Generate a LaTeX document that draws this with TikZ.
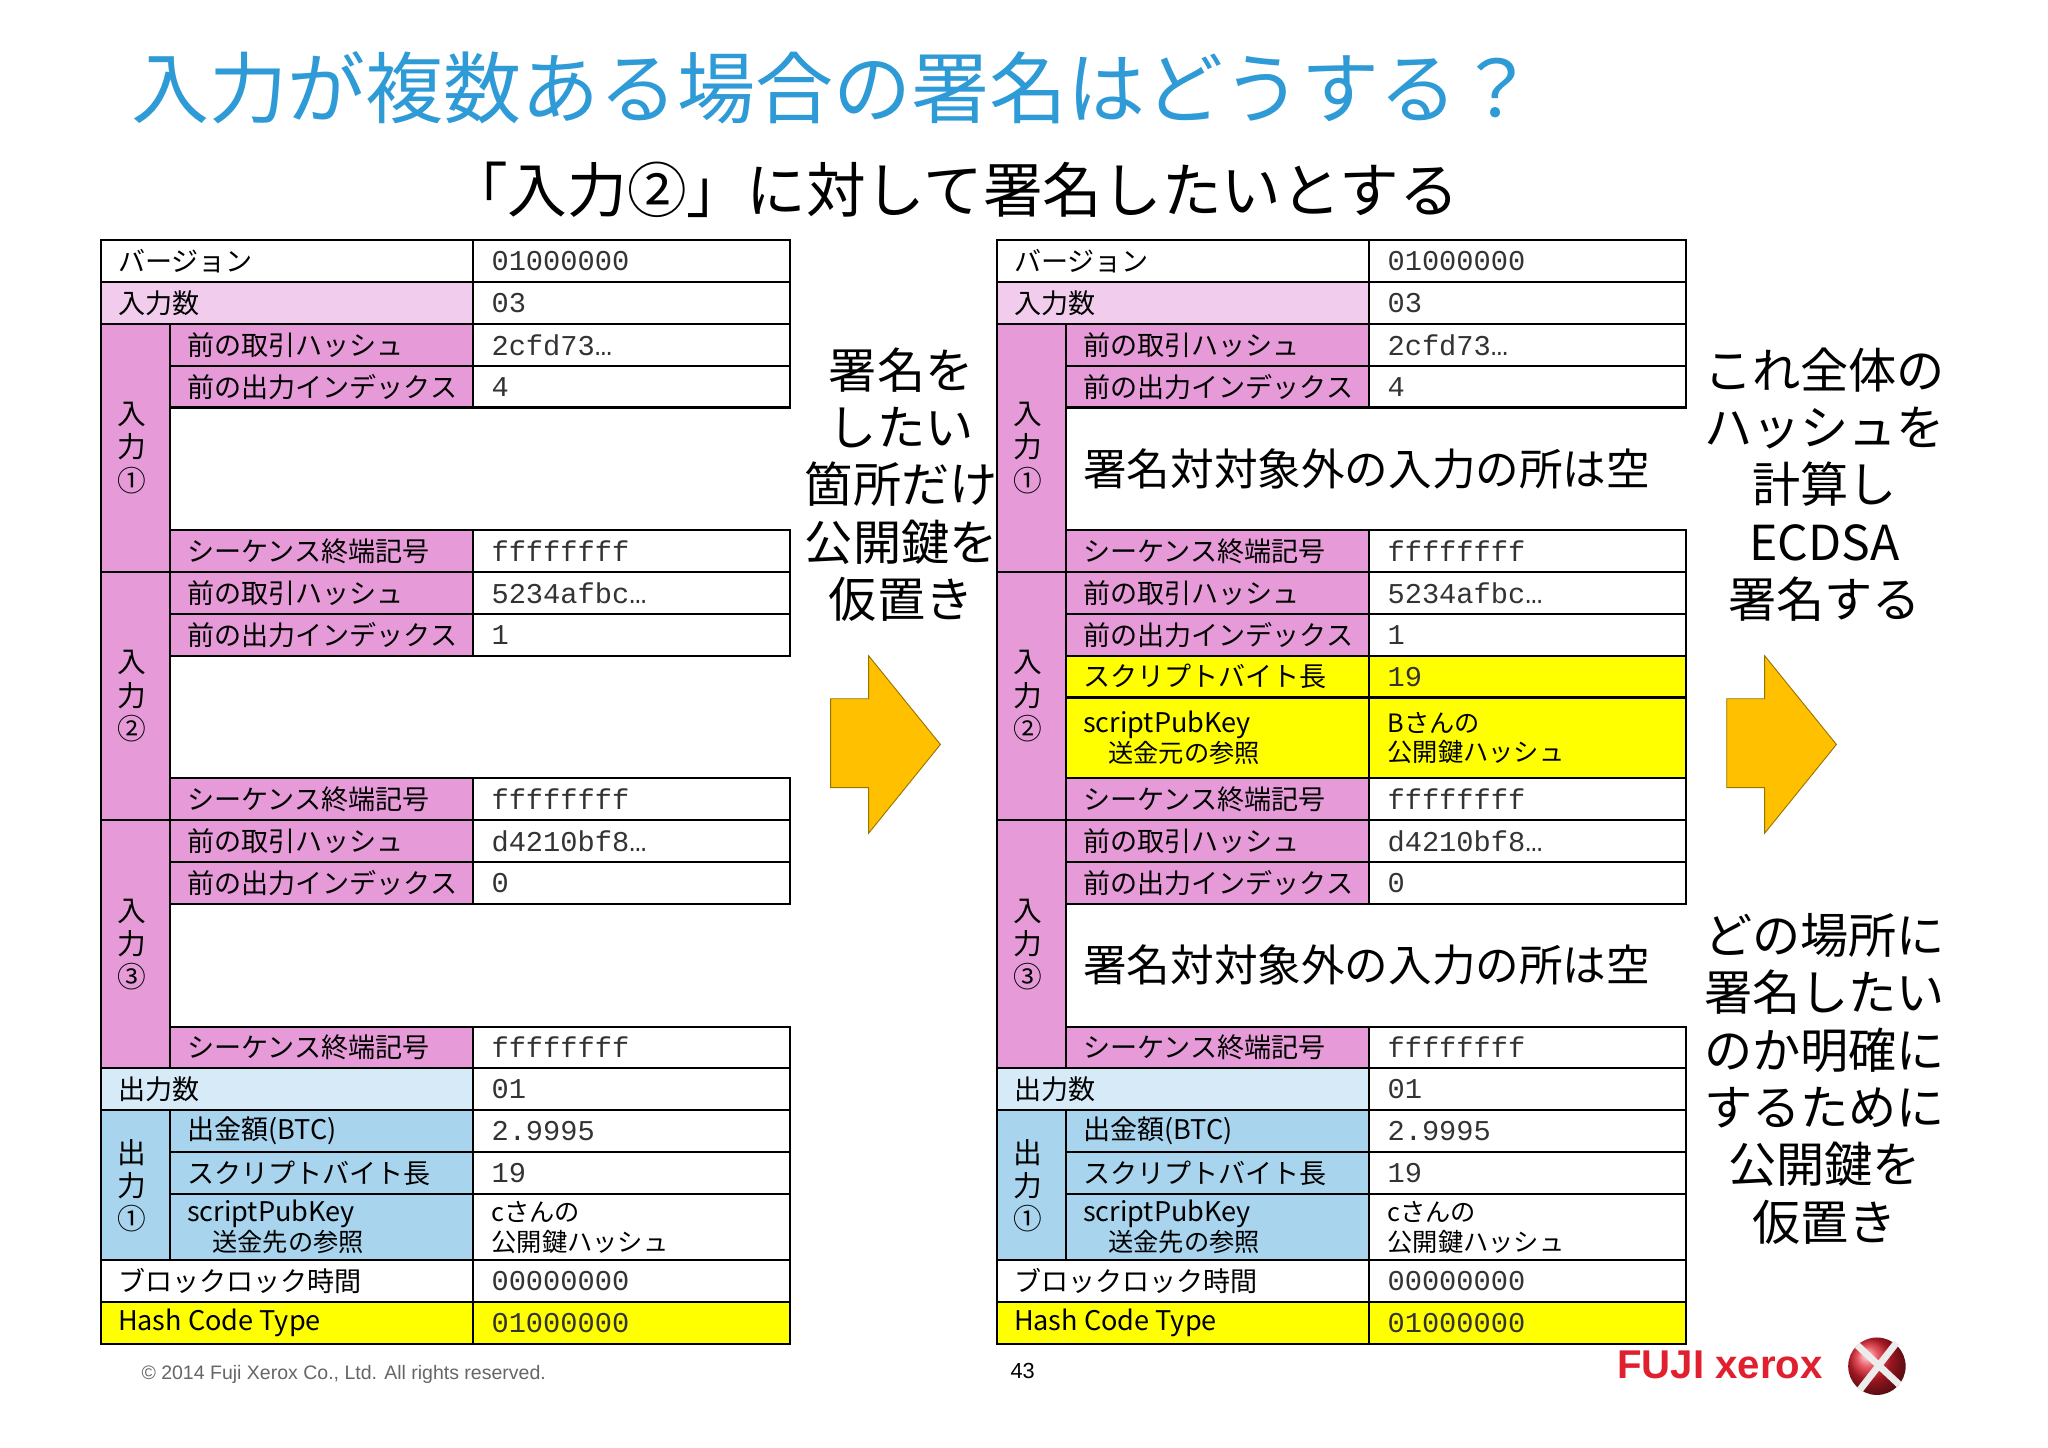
\documentclass[tikz,border=0pt]{standalone}
\usepackage{fontspec}
\setmainfont{Noto Sans CJK JP}
\newfontfamily\monof{Liberation Mono}
\newfontfamily\logof{Liberation Sans}
\definecolor{lpink}{HTML}{F2CCEC}
\definecolor{dpink}{HTML}{E69BD8}
\definecolor{lblue}{HTML}{D6EAF8}
\definecolor{dblue}{HTML}{A8D4EE}
\definecolor{yel}{HTML}{FFFF00}
\definecolor{ttl}{HTML}{2E9AD6}
\definecolor{arr}{HTML}{FFC000}
\definecolor{xred}{HTML}{E0202E}
\tikzset{
 lbl/.style={anchor=west,inner sep=0pt,font=\fontsize{11.8}{14}\selectfont},
 val/.style={anchor=west,inner sep=0pt,font=\monof\fontsize{12.5}{14}\selectfont,text=black!80},
 valj/.style={anchor=west,inner sep=0pt,align=left,font=\fontsize{11}{13}\selectfont},
 strip/.style={align=center,inner sep=0pt,font=\fontsize{12.5}{14.5}\selectfont},
 big/.style={align=center,inner sep=0pt,font=\fontsize{21}{25}\selectfont},
 cellb/.style={draw=black,line width=0.9pt},
 arrowshape/.style={fill=arr,draw=arr!60!black,line width=0.4pt},
}
\newcommand\trow[8]{%
 \draw[cellb,fill=#5] (#2,#3) rectangle (362,#4);
 \draw[cellb,fill=#6] (362,#3) rectangle (605,#4);
 \node[lbl] (#1l) at (#2+13,{(#3+#4)/2}) {#7};
 \node[val] (#1v) at (376,{(#3+#4)/2}) {#8};}
\newcommand\trowj[8]{%
 \draw[cellb,fill=#5] (#2,#3) rectangle (362,#4);
 \draw[cellb,fill=#6] (362,#3) rectangle (605,#4);
 \node[valj] (#1l) at (#2+13,{(#3+#4)/2}) {\fontsize{11.8}{14}\selectfont #7};
 \node[valj] (#1v) at (376,{(#3+#4)/2}) {#8};}
\newcommand\inblock[6]{%
 \draw[cellb,fill=dpink] (77,#2) rectangle (130,#2+190);
 \node[strip] (#1s) at (101,#2+95) {入\\力\\#3};
 \trow{#1a}{130}{#2}{#2+32}{dpink}{white}{前の取引ハッシュ}{#4}
 \trow{#1b}{130}{#2+32}{#2+64}{dpink}{white}{前の出力インデックス}{#5}
 \ifcase#6\or
  \node[inner sep=0pt,font=\fontsize{19}{22}\selectfont,anchor=west] (#1e) at (143,#2+111) {署名対対象外の入力の所は空};
 \or
  \trow{#1c}{130}{#2+64}{#2+96}{yel}{yel}{スクリプトバイト長}{19}
  \trowj{#1d}{130}{#2+96}{#2+158}{yel}{yel}{scriptPubKey\\\hspace*{1em}送金元の参照}{Bさんの\\公開鍵ハッシュ}
 \fi
 \trow{#1f}{130}{#2+158}{#2+190}{dpink}{white}{シーケンス終端記号}{ffffffff}}
\newcommand\txtable[3]{%
 \trow{ver}{77}{184}{216}{white}{white}{バージョン}{01000000}
 \trow{nin}{77}{216}{248}{lpink}{white}{入力数}{03}
 \inblock{i1}{248}{①}{2cfd73…}{4}{#1}
 \inblock{i2}{438}{②}{5234afbc…}{1}{#2}
 \inblock{i3}{628}{③}{d4210bf8…}{0}{#3}
 \trow{nout}{77}{818}{850}{lblue}{white}{出力数}{01}
 \draw[cellb,fill=dblue] (77,850) rectangle (130,965);
 \node[strip] (os) at (101,908) {出\\力\\①};
 \trow{oa}{130}{850}{882}{dblue}{white}{出金額(BTC)}{2.9995}
 \trow{ob}{130}{882}{914}{dblue}{white}{スクリプトバイト長}{19}
 \trowj{oc}{130}{914}{965}{dblue}{white}{scriptPubKey\\\hspace*{1em}送金先の参照}{cさんの\\公開鍵ハッシュ}
 \trow{lock}{77}{965}{997}{white}{white}{ブロックロック時間}{00000000}
 \trow{hct}{77}{997}{1029}{yel}{yel}{Hash Code Type}{01000000}}
\begin{document}
\begin{tikzpicture}[x=0.02cm,y=-0.02cm]
\useasboundingbox (0,0) rectangle (1568,1108);
\fill[white] (0,0) rectangle (1568,1108);
\node[anchor=west,inner sep=0pt,text=ttl,font=\fontsize{34}{38}\selectfont] (title) at (100,67) {入力が複数ある場合の署名はどうする？};
\node[inner sep=0pt,font=\fontsize{26}{30}\selectfont] (sub) at (730,145) {「入力②」に対して署名したいとする};
\begin{scope}[name prefix=L-]
 \txtable{0}{0}{0}
\end{scope}
\begin{scope}[xshift=686*0.02cm,name prefix=R-]
 \txtable{1}{2}{1}
\end{scope}
\node[big] (m1) at (690,371) {署名を\\したい\\箇所だけ\\公開鍵を\\仮置き};
\node[big] (r1) at (1397,371) {これ全体の\\ハッシュを\\計算し\\ECDSA\\署名する};
\node[big] (r2) at (1397,826) {どの場所に\\署名したい\\のか明確に\\するために\\公開鍵を\\仮置き};
\draw[arrowshape] (636,535) -- (665,535) -- (665,502) -- (720,570) -- (665,638) -- (665,603) -- (636,603) -- cycle;
\draw[arrowshape] (1322,535) -- (1351,535) -- (1351,502) -- (1406,570) -- (1351,638) -- (1351,603) -- (1322,603) -- cycle;
\node[anchor=west,inner sep=0pt,text=black!60,font=\logof\fontsize{8.5}{10}\selectfont] (copy) at (108,1052) {© 2014 Fuji Xerox Co., Ltd. All rights reserved.};
\node[inner sep=0pt,font=\logof\fontsize{9.5}{11}\selectfont] (pg) at (783,1050) {43};
\node[anchor=west,inner sep=0pt,text=xred,font=\logof\bfseries\fontsize{17.5}{20}\selectfont] (logo) at (1238,1045) {FUJI xerox};
\shade[ball color=xred] (1437,1046) circle (22);
\draw[white!85!gray,line width=3pt] (1422,1030) -- (1454,1060) (1452,1028) -- (1424,1064);
\end{tikzpicture}
\end{document}
